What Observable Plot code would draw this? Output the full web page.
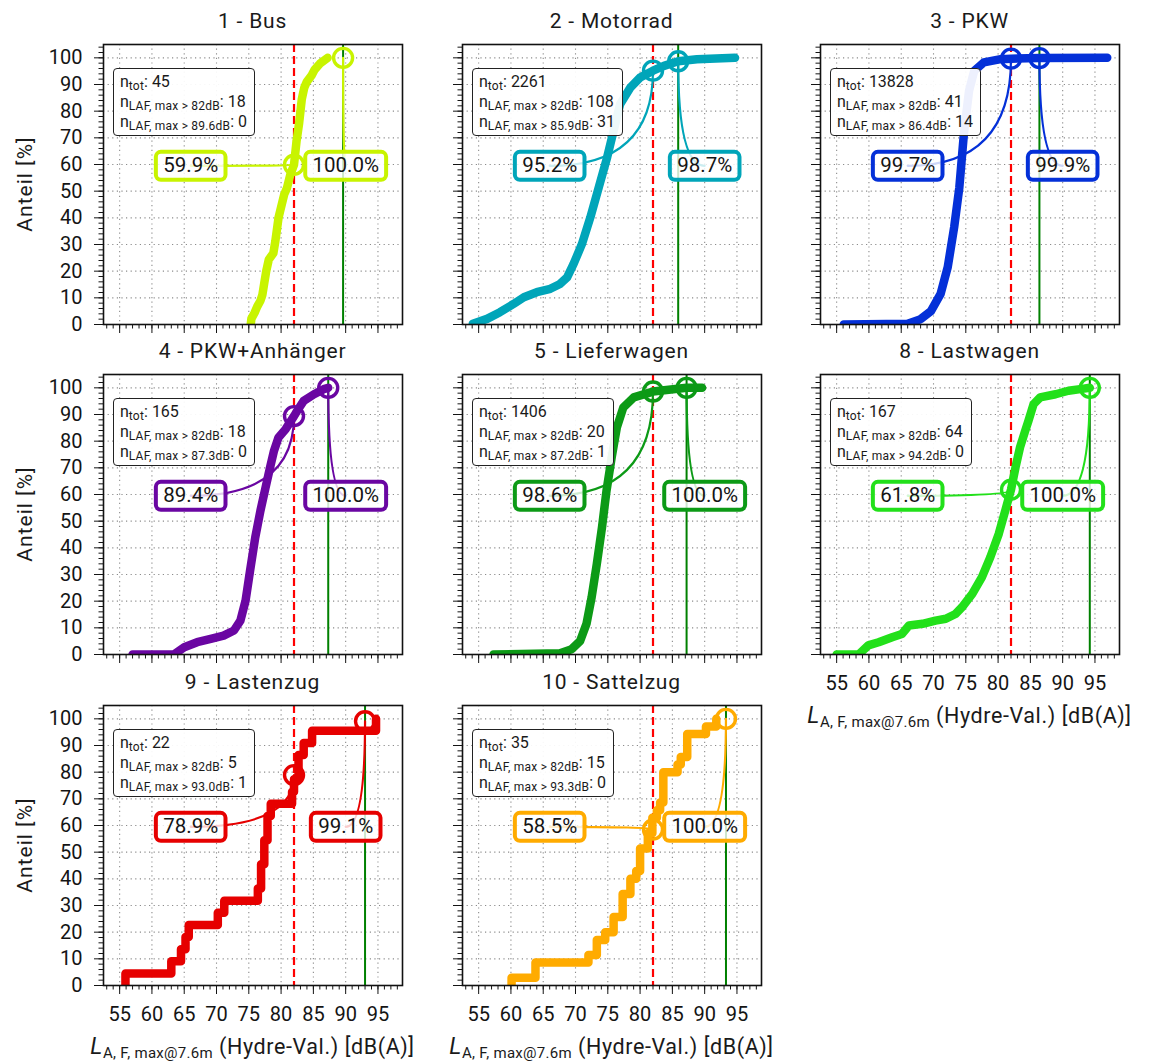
<!DOCTYPE html>
<html>
<head>
<meta charset="utf-8">
<script src="https://cdn.jsdelivr.net/npm/d3@7"></script>
<script src="https://cdn.jsdelivr.net/npm/@observablehq/plot@0.6"></script>
<style>
  html, body { margin: 0; padding: 0; background: #ffffff; }
  #chart {
    position: relative; width: 1149px; height: 1061px; overflow: hidden;
    font-family: Roboto, "DejaVu Sans", sans-serif; color: #1a1a1a; background: #ffffff;
  }
  #chart svg { position: absolute; }
  .title, .xlabel, .ylabel { position: absolute; white-space: nowrap; transform: translate(-50%, -50%); line-height: 1; }
  .title { font-size: 21px; letter-spacing: 0.8px; }
  .ylabel { font-size: 21px; letter-spacing: 1px; transform: translate(-50%, -50%) rotate(-90deg); }
  .xlabel { font-size: 21.5px; letter-spacing: 0.6px; }
  .xlabel i { font-size: 23px; }
  .xlabel sub { font-size: 15px; letter-spacing: 0.3px; vertical-align: -4px; line-height: 0; }
  .info {
    position: absolute; background: rgba(255,255,255,0.93); border: 1px solid #222; border-radius: 4px;
    padding: 3px 7px 3px 6px; font-size: 16px; line-height: 20px; white-space: nowrap;
  }
  .info sub { font-size: 12px; letter-spacing: 0.2px; vertical-align: -3px; line-height: 0; }
</style>
</head>
<body>
<div id="chart"></div>
<script>
// ---- panel metadata -------------------------------------------------------
const titles = ["1 - Bus", "2 - Motorrad", "3 - PKW", "4 - PKW+Anhänger",
                "5 - Lieferwagen", "8 - Lastwagen", "9 - Lastenzug", "10 - Sattelzug"];
const colors = ["#c8f400", "#00a5b9", "#0430d8", "#6a06a2", "#0c9a16", "#22e01a", "#e60000", "#ffab00"];
const stepped = [false, false, false, false, false, false, true, true];

const limitDb = 82;                                   // fixed limit value [dB(A)]
const thresholds = [89.6, 85.9, 86.4, 87.3, 87.2, 94.2, 93.0, 93.3];
const nTot       = [45, 2261, 13828, 165, 1406, 167, 22, 35];
const nAbove82   = [18, 108, 41, 18, 20, 64, 5, 15];
const nAboveThr  = [0, 31, 14, 0, 1, 0, 1, 0];
const pctAt82    = [59.9, 95.2, 99.7, 89.4, 98.6, 61.8, 78.9, 58.5];
const pctAtThr   = [100.0, 98.7, 99.9, 100.0, 100.0, 100.0, 99.1, 100.0];

// ---- cumulative distributions (level [dB(A)] / share [%]) ------------------
const busX = [75.3, 75.4, 75.9, 76.3, 76.8, 77.1, 77.4, 77.7, 78.1, 78.8, 79.1, 79.6, 80.1, 80.5, 80.9, 81.4, 82.0, 82.4, 82.8, 83.2, 83.6, 84.0, 84.7, 85.2, 86.0, 87.2];
const busY = [0, 2.2, 4.4, 6.7, 8.9, 11.1, 15.6, 20.0, 24.4, 26.7, 31.1, 40.0, 45.0, 48.9, 51.1, 56.0, 59.9, 68.9, 75.6, 84.4, 88.9, 91.1, 93.3, 95.6, 97.8, 100];

const motoX = [54.1, 56.3, 58.3, 60.4, 62.0, 64.0, 66.1, 67.6, 68.7, 69.7, 71.0, 72.3, 73.6, 74.9, 75.9, 76.9, 78.5, 80.0, 82.0, 83.7, 85.9, 88.8, 94.7];
const motoY = [0.3, 2.1, 4.6, 7.7, 10.2, 12.1, 13.4, 15.2, 17.7, 22.7, 30.2, 40.2, 51.4, 62.7, 72.7, 82.6, 88.9, 92.6, 95.2, 97.0, 98.7, 99.5, 100];

const pkwX = [56.1, 66.0, 68.0, 69.6, 71.1, 72.2, 73.2, 74.0, 74.7, 75.5, 76.3, 77.8, 80.4, 82.0, 86.4, 96.9];
const pkwY = [0, 0.3, 2.0, 5.0, 11.5, 21.5, 36.5, 51.4, 71.4, 87.6, 95.1, 98.3, 99.5, 99.7, 99.9, 100];

const pkwAnhX = [57.0, 63.4, 65.0, 67.0, 69.1, 71.1, 72.7, 73.7, 74.5, 75.2, 76.0, 76.8, 77.6, 78.3, 78.9, 79.6, 80.7, 82.0, 82.5, 83.5, 85.1, 86.6, 87.3];
const pkwAnhY = [0, 0, 2.7, 4.6, 5.9, 7.1, 9.0, 12.7, 20.2, 31.5, 43.9, 53.9, 62.7, 70.2, 76.4, 81.4, 84.5, 89.4, 91.4, 95.1, 97.6, 99.5, 100];

const lieferX = [57.3, 67.6, 69.4, 70.7, 71.7, 72.5, 73.3, 74.1, 74.8, 75.6, 76.4, 77.4, 79.0, 82.0, 87.2, 89.6];
const lieferY = [0, 0.5, 2.0, 5.0, 11.5, 21.5, 34.0, 47.7, 61.4, 73.9, 85.1, 92.6, 96.4, 98.6, 100, 100];

const lastwX = [55.0, 58.4, 59.9, 61.5, 63.6, 65.1, 66.2, 68.3, 70.3, 71.9, 73.4, 74.4, 76.0, 77.5, 78.8, 80.1, 81.1, 82.0, 82.7, 83.4, 84.2, 84.7, 85.5, 86.5, 88.9, 90.9, 93.0, 94.2];
const lastwY = [0, 0, 3.4, 4.6, 6.5, 7.7, 10.9, 11.5, 12.7, 13.4, 15.2, 17.7, 22.7, 29.0, 36.5, 45.2, 53.9, 61.8, 70.2, 77.7, 83.9, 87.6, 93.9, 96.4, 97.6, 98.9, 99.6, 100];

const lastzX = [55.9, 55.9, 63.0, 64.5, 65.2, 65.7, 70.2, 71.2, 76.4, 76.9, 77.4, 77.9, 78.4, 81.7, 82.0, 82.7, 83.5, 84.8, 94.7];
const lastzY = [0, 4.5, 9.1, 13.6, 18.2, 22.7, 27.3, 31.8, 36.4, 45.5, 54.5, 63.6, 68.2, 72.7, 77.3, 86.4, 90.9, 95.5, 100];

const sattelX = [60.1, 60.1, 63.8, 72.0, 73.3, 74.6, 75.9, 77.3, 78.5, 79.4, 80.0, 81.2, 81.9, 82.6, 83.1, 83.6, 85.8, 86.3, 87.3, 90.2, 91.8];
const sattelY = [0, 2.9, 8.6, 11.4, 17.1, 20.0, 25.7, 34.3, 40.0, 42.9, 51.4, 57.1, 62.9, 65.7, 68.6, 80.0, 82.9, 85.7, 94.3, 97.1, 100];

const curvesX = [busX, motoX, pkwX, pkwAnhX, lieferX, lastwX, lastzX, sattelX];
const curvesY = [busY, motoY, pkwY, pkwAnhY, lieferY, lastwY, lastzY, sattelY];

// ---- axes ------------------------------------------------------------------
const xTicks = [55, 60, 65, 70, 75, 80, 85, 90, 95];
const yTicks = [0, 10, 20, 30, 40, 50, 60, 70, 80, 90, 100];
const xMinor = d3.range(53, 99, 1);
const yMinor = d3.range(0, 105, 2);
const xDomain = [52.5, 98.8];
const yDomain = [0, 105];

// ---- layout ----------------------------------------------------------------
const FW = 299, FH = 280;                 // frame size
const ML = 100, MR = 12, MT = 12, MB = 44; // svg margins around the frame
const colLeft = [103, 462, 820];
const rowTop = [44, 374, 705];
const cells = [[0,0],[0,1],[0,2],[1,0],[1,1],[1,2],[2,0],[2,1]];
const labelY = 59.5, labelLX = 66, labelRX = 90;

const chart = document.getElementById("chart");
const measure = document.createElement("canvas").getContext("2d");
measure.font = "20px Roboto";

// quadratic connector: start at label, bend through the corner, end on the marker
function quadCurve(context) {
  let pts = [];
  return {
    areaStart() {}, areaEnd() {},
    lineStart() { pts = []; },
    point(x, y) { pts.push([+x, +y]); },
    lineEnd() {
      if (pts.length === 3) {
        context.moveTo(pts[0][0], pts[0][1]);
        context.quadraticCurveTo(pts[1][0], pts[1][1], pts[2][0], pts[2][1]);
      } else {
        pts.forEach((p, i) => i ? context.lineTo(p[0], p[1]) : context.moveTo(p[0], p[1]));
      }
    }
  };
}

// rounded label box used as a dot symbol
function roundBox(w, h, rad) {
  return {
    draw(c) {
      const x0 = -w / 2, y0 = -h / 2, x1 = w / 2, y1 = h / 2;
      c.moveTo(x0 + rad, y0);
      c.lineTo(x1 - rad, y0); c.arcTo(x1, y0, x1, y0 + rad, rad);
      c.lineTo(x1, y1 - rad); c.arcTo(x1, y1, x1 - rad, y1, rad);
      c.lineTo(x0 + rad, y1); c.arcTo(x0, y1, x0, y1 - rad, rad);
      c.lineTo(x0, y0 + rad); c.arcTo(x0, y0, x0 + rad, y0, rad);
      c.closePath();
    }
  };
}

function addDiv(cls, html, left, top) {
  const d = document.createElement("div");
  d.className = cls;
  d.innerHTML = html;
  d.style.left = left + "px";
  d.style.top = top + "px";
  chart.appendChild(d);
  return d;
}

titles.forEach((title, i) => {
  const [row, col] = cells[i];
  const fx = colLeft[col], fy = rowTop[row];
  const color = colors[i];
  const thr = thresholds[i];
  const showX = row === 2 || (row === 1 && col === 2);
  const showY = col === 0;

  const curve = curvesX[i].map((x, k) => ({x, y: curvesY[i][k]}));
  const markers = [{x: limitDb, y: pctAt82[i]}, {x: thr, y: pctAtThr[i]}];
  const connectors = [
    {id: "a", x: labelLX, y: labelY}, {id: "a", x: limitDb, y: labelY}, {id: "a", x: limitDb, y: pctAt82[i]},
    {id: "b", x: labelRX, y: labelY}, {id: "b", x: thr, y: labelY}, {id: "b", x: thr, y: pctAtThr[i]}
  ];
  const labels = [
    {x: labelLX, y: labelY, text: pctAt82[i].toFixed(1) + "%"},
    {x: labelRX, y: labelY, text: pctAtThr[i].toFixed(1) + "%"}
  ];
  const boxFor = (lab) => roundBox(measure.measureText(lab.text).width + 16, 28, 5);

  const svg = Plot.plot({
    width: ML + FW + MR, height: MT + FH + MB,
    marginLeft: ML, marginRight: MR, marginTop: MT, marginBottom: MB,
    x: {domain: xDomain},
    y: {domain: yDomain},
    style: {background: "transparent", overflow: "visible", maxWidth: "none",
            fontFamily: "Roboto, 'DejaVu Sans', sans-serif", fontSize: "20px", color: "#141414"},
    marks: [
      Plot.gridX(xTicks, {stroke: "#8c8c8c", strokeOpacity: 1, strokeWidth: 1.1, strokeDasharray: "1.2,3.4"}),
      Plot.gridY(yTicks, {stroke: "#8c8c8c", strokeOpacity: 1, strokeWidth: 1.1, strokeDasharray: "1.2,3.4"}),
      Plot.ruleX([limitDb], {stroke: "#ff0000", strokeWidth: 2.2, strokeDasharray: "8,4"}),
      Plot.ruleX([thr], {stroke: "#008000", strokeWidth: 2}),
      Plot.line(curve, {x: "x", y: "y", stroke: color, strokeWidth: 8.5, clip: true,
                        strokeLinejoin: "round", strokeLinecap: "round",
                        curve: stepped[i] ? "step-after" : "linear"}),
      Plot.line(connectors, {x: "x", y: "y", z: "id", stroke: color, strokeWidth: 2.2, curve: quadCurve}),
      Plot.dot(markers, {x: "x", y: "y", r: 9.5, stroke: color, strokeWidth: 3.4, fill: "none"}),
      Plot.dot([labels[0]], {x: "x", y: "y", r: 1, symbol: boxFor(labels[0]), fill: "white", fillOpacity: 0.8, stroke: color, strokeWidth: 4}),
      Plot.dot([labels[1]], {x: "x", y: "y", r: 1, symbol: boxFor(labels[1]), fill: "white", fillOpacity: 0.8, stroke: color, strokeWidth: 4}),
      Plot.text(labels, {x: "x", y: "y", text: "text", fontSize: 20.5, fill: "#141414"}),
      Plot.frame({stroke: "#111", strokeWidth: 1.6}),
      Plot.axisX(xMinor, {tickSize: 4.5, tickFormat: () => "", label: null}),
      Plot.axisY(yMinor, {tickSize: 4.5, tickFormat: () => "", label: null}),
      Plot.axisX(xTicks, {tickSize: 9, tickPadding: 12, label: null, tickFormat: showX ? (d) => String(d) : () => ""}),
      Plot.axisY(yTicks, {tickSize: 9, tickPadding: 12, label: null, tickFormat: showY ? (d) => String(d) : () => ""})
    ]
  });
  svg.style.left = (fx - ML) + "px";
  svg.style.top = (fy - MT) + "px";
  chart.appendChild(svg);

  addDiv("title", title, fx + FW / 2, fy - 23);
  addDiv("info",
    `<div>n<sub>tot</sub>: ${nTot[i]}</div>` +
    `<div>n<sub>LAF, max &gt; ${limitDb}dB</sub>: ${nAbove82[i]}</div>` +
    `<div>n<sub>LAF, max &gt; ${thr.toFixed(1)}dB</sub>: ${nAboveThr[i]}</div>`,
    fx + 10, fy + 24);
  if (showY) addDiv("ylabel", "Anteil [%]", 25, fy + FH / 2);
  if (showX) addDiv("xlabel", "<i>L</i><sub>A, F, max@7.6m</sub> (Hydre-Val.) [dB(A)]", fx + FW / 2, fy + FH + 61);
});
</script>
</body>
</html>
